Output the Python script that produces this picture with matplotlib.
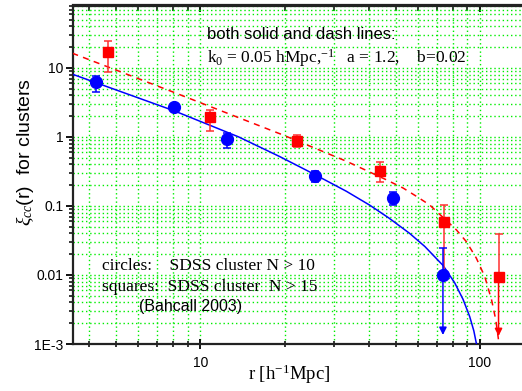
import numpy as np
import matplotlib
matplotlib.use('Agg')
import matplotlib.pyplot as plt
from matplotlib.ticker import FixedLocator, FixedFormatter, LogLocator, NullFormatter

plt.rcParams['mathtext.fontset'] = 'custom'
plt.rcParams['mathtext.rm'] = 'Liberation Serif'
plt.rcParams['mathtext.it'] = 'Liberation Serif:italic'

# SDSS cluster correlation function, N > 10 (circles)
r_c = [4.23, 8.07, 12.5, 25.8, 49.1, 73.8]
xi_c = [6.27, 2.72, 0.917, 0.267, 0.131, 0.0101]
xi_c_hi = [7.7, 2.95, 1.14, 0.32, 0.16, 0.0244]
xi_c_lo = [4.43, 2.5, 0.68, 0.224, 0.102, 0.0101]

# N > 15 (squares)
r_s = [4.68, 10.8, 22.1, 43.8, 74.3, 116.7]
xi_s = [16.8, 1.91, 0.866, 0.32, 0.058, 0.0094]
xi_s_hi = [24.6, 2.49, 1.06, 0.426, 0.103, 0.0389]
xi_s_lo = [8.8, 1.22, 0.716, 0.224, 0.0101, 0.0094]

# points given only as upper limits (arrow down to)
lim_c = {73.8: 0.00135}
lim_s = {116.7: 0.0013}

# model curves
r_solid = [3.48, 8.07, 13.7, 19.2, 25.8, 33.3, 40.3, 47.3, 56.1, 63.6, 73.9,
           81.3, 87.1, 92.0, 95.2, 97.2]
xi_solid = [8.1, 2.38, 1.0, 0.52, 0.282, 0.163, 0.103, 0.0667, 0.040, 0.0258,
            0.0137, 0.0077, 0.00444, 0.0025, 0.00155, 0.00102]
r_dash = [3.48, 8.07, 19.7, 27.4, 33.3, 39.8, 45.9, 53.1, 59.8, 66.2, 82.5,
          89.5, 97.2, 104.2, 110.2, 114.1, 116.7]
xi_dash = [16.3, 4.39, 1.07, 0.616, 0.444, 0.318, 0.243, 0.182, 0.135, 0.103,
           0.0449, 0.0304, 0.0175, 0.00945, 0.00435, 0.00223, 0.00114]

y_ticks = [1e-3, 1e-2, 0.1, 1, 10]
y_labels = ['1E-3', '0.01', '0.1', '1', '10']

W, H = 522, 391
fig = plt.figure(figsize=(W / 100, H / 100), dpi=100)
ax = fig.add_axes([73 / W, 1 - 344 / H, (529 - 73) / W, (344 - 5.5) / H])
ax.set_xscale('log')
ax.set_yscale('log')
ax.set_xlim(3.5, 150)
ax.set_ylim(1e-3, 80)

ax.grid(True, which='both', color='#00ee00', linestyle=(0, (1, 2)), linewidth=1.0)
ax.set_axisbelow(True)

ax.plot(r_solid, xi_solid, color='#0000ff', lw=1.1, zorder=3)
ax.plot(r_dash, xi_dash, color='#ff0000', lw=1.1, dashes=(4, 3.5), zorder=3)

c_err = [np.array(xi_c) - np.array(xi_c_lo), np.array(xi_c_hi) - np.array(xi_c)]
s_err = [np.array(xi_s) - np.array(xi_s_lo), np.array(xi_s_hi) - np.array(xi_s)]
ax.errorbar(r_s, xi_s, yerr=s_err, fmt='s', color='#ff0000', ecolor='#ff3030',
            ms=7.5, capsize=3, elinewidth=1.1, capthick=1.1, zorder=4)
ax.errorbar(r_c, xi_c, yerr=c_err, fmt='o', color='#0000ff', ecolor='#0000ff',
            ms=8.5, capsize=3, elinewidth=1.1, capthick=1.1, zorder=5)

for lims, xs, ys, col in [(lim_c, r_c, xi_c, '#0000ff'), (lim_s, r_s, xi_s, '#ff0000')]:
    for x0, y_end in lims.items():
        y0 = ys[xs.index(x0)]
        ax.annotate('', xy=(x0, y_end), xytext=(x0, y0),
                    arrowprops=dict(arrowstyle='-|>', color=col, lw=1.1,
                                    mutation_scale=11, shrinkA=0, shrinkB=0),
                    zorder=4)

ax.yaxis.set_major_locator(FixedLocator(y_ticks))
ax.yaxis.set_major_formatter(FixedFormatter(y_labels))
ax.yaxis.set_minor_locator(LogLocator(base=10, subs=np.arange(2, 10)))
ax.yaxis.set_minor_formatter(NullFormatter())
ax.xaxis.set_major_locator(FixedLocator([10, 100]))
ax.xaxis.set_major_formatter(FixedFormatter(['10', '100']))
ax.xaxis.set_minor_locator(LogLocator(base=10, subs=np.arange(2, 10)))
ax.xaxis.set_minor_formatter(NullFormatter())

for s in ['left', 'bottom', 'top']:
    ax.spines[s].set_linewidth(1.6)
    ax.spines[s].set_color('#222222')
ax.spines['right'].set_visible(False)

ax.tick_params(axis='y', which='major', direction='out', length=5, width=1.3,
               pad=2, labelsize=10)
ax.tick_params(axis='y', which='minor', direction='out', length=3, width=1.1)
ax.tick_params(axis='x', which='major', direction='inout', length=7, width=1.3,
               pad=5, labelsize=10)
ax.tick_params(axis='x', which='minor', direction='inout', length=5, width=1.1)
for lab in ax.get_xticklabels() + ax.get_yticklabels():
    lab.set_fontfamily('Liberation Sans')

top = ax.secondary_xaxis('top')
top.xaxis.set_major_locator(FixedLocator([10, 100]))
top.xaxis.set_minor_locator(LogLocator(base=10, subs=np.arange(2, 10)))
top.xaxis.set_major_formatter(NullFormatter())
top.xaxis.set_minor_formatter(NullFormatter())
top.tick_params(which='major', direction='in', length=5, width=1.3)
top.tick_params(which='minor', direction='in', length=4, width=1.1)
top.spines['top'].set_linewidth(1.6)
top.spines['top'].set_color('#222222')

def px(x, y):
    return x / W, 1 - y / H

fig.text(*px(207, 39), 'both solid and dash lines:', family='Liberation Sans',
         fontsize=12, va='baseline')
fig.text(*px(207, 63), r'k$_0$ = 0.05 hMpc,$^{-1}$   a = 1.2,    b=0.02',
         family='Liberation Serif', fontsize=12.5, va='baseline')
fig.text(*px(102, 270), 'circles:    SDSS cluster N > 10',
         family='Liberation Serif', fontsize=12.5, va='baseline')
fig.text(*px(102, 291), 'squares:  SDSS cluster  N > 15',
         family='Liberation Serif', fontsize=12.5, va='baseline')
fig.text(*px(139, 311), '(Bahcall 2003)', family='Liberation Sans',
         fontsize=11.5, va='baseline')
fig.text(*px(289, 380), r'r [h$^{-1}$Mpc]', family='Liberation Serif',
         fontsize=13.5, va='baseline', ha='center')
fig.text(*px(25, 152), r'$\xi_{cc}$(r)  for clusters', family='Liberation Sans',
         fontsize=14, rotation=90, va='center', ha='center')

fig.savefig('out.png', dpi=100)
